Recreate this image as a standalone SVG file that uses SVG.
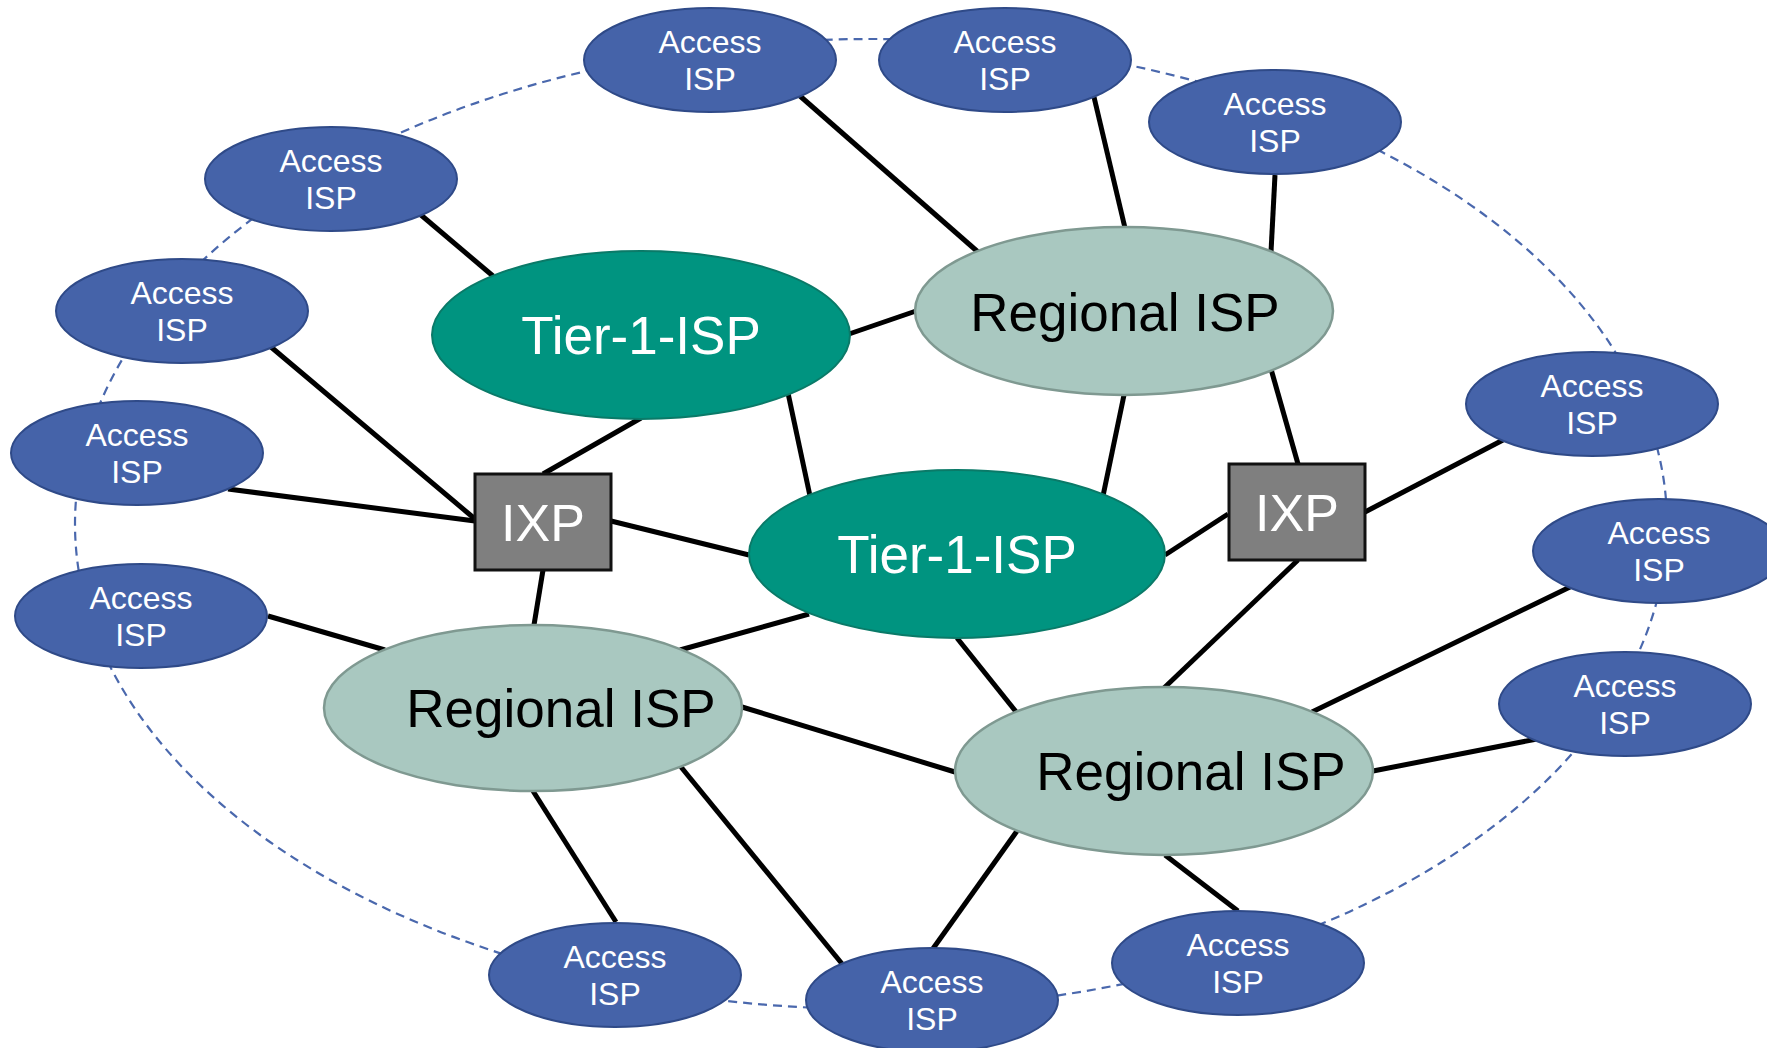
<svg xmlns="http://www.w3.org/2000/svg" width="1767" height="1048" viewBox="0 0 1767 1048">
  <style>
    .ring { fill: none; stroke: #4a68ad; stroke-width: 2.2; stroke-dasharray: 9 6; }
    .link { stroke: #000; stroke-width: 5; fill: none; }
    .access { fill: #4563a9; stroke: #2f4a88; stroke-width: 2; }
    .tier1 { fill: #009480; stroke: #0a7a68; stroke-width: 2; }
    .regional { fill: #a9c8c0; stroke: #7f9991; stroke-width: 2.5; }
    .ixp { fill: #7f7f7f; stroke: #111; stroke-width: 3; }
    .t-access { font-family: "Liberation Sans", Arial, sans-serif; font-size: 32px; fill: #fff; text-anchor: middle; }
    .t-big { font-family: "Liberation Sans", Arial, sans-serif; font-size: 53px; text-anchor: middle; }
    .t-ixp { font-family: "Liberation Sans", Arial, sans-serif; font-size: 52px; fill: #fff; text-anchor: middle; }
  </style>
  <rect width="1767" height="1048" fill="#fff"/>

  <!-- dashed ring through the access networks -->
  <ellipse class="ring" cx="871" cy="524" rx="796" ry="485"/>

  <g id="connectors">
    <line class="link" x1="800" y1="96" x2="978" y2="252"/>
    <line class="link" x1="1094" y1="97" x2="1125" y2="228"/>
    <line class="link" x1="1275" y1="175" x2="1271" y2="252"/>
    <line class="link" x1="421" y1="215" x2="493" y2="276"/>
    <line class="link" x1="271" y1="347" x2="475" y2="519"/>
    <line class="link" x1="228" y1="489" x2="475" y2="521"/>
    <line class="link" x1="641" y1="418" x2="543" y2="474"/>
    <line class="link" x1="849" y1="334" x2="916" y2="311"/>
    <line class="link" x1="788" y1="393" x2="810" y2="496"/>
    <line class="link" x1="1124" y1="395" x2="1103" y2="496"/>
    <line class="link" x1="1271" y1="369" x2="1298" y2="464"/>
    <line class="link" x1="611" y1="521" x2="749" y2="555"/>
    <line class="link" x1="1228" y1="514" x2="1165" y2="555"/>
    <line class="link" x1="1365" y1="512" x2="1503" y2="440"/>
    <line class="link" x1="543" y1="570" x2="534" y2="625"/>
    <line class="link" x1="268" y1="616" x2="385" y2="650"/>
    <line class="link" x1="809" y1="614" x2="680" y2="650"/>
    <line class="link" x1="957" y1="638" x2="1017" y2="713"/>
    <line class="link" x1="1298" y1="560" x2="1164" y2="688"/>
    <line class="link" x1="742" y1="707" x2="955" y2="772"/>
    <line class="link" x1="533" y1="791" x2="616" y2="922"/>
    <line class="link" x1="681" y1="767" x2="843" y2="965"/>
    <line class="link" x1="1017" y1="831" x2="932" y2="950"/>
    <line class="link" x1="1165" y1="855" x2="1238" y2="911"/>
    <line class="link" x1="1312" y1="712" x2="1570" y2="587"/>
    <line class="link" x1="1373" y1="771" x2="1537" y2="739"/>
  </g>

  <!-- core networks -->
  <g id="tier1-west">
    <ellipse class="tier1" cx="641" cy="335" rx="209" ry="84"/>
    <text class="t-big" x="641" y="354" fill="#fff">Tier-1-ISP</text>
  </g>
  <g id="tier1-central">
    <ellipse class="tier1" cx="957" cy="554" rx="208" ry="84"/>
    <text class="t-big" x="957" y="573" fill="#fff">Tier-1-ISP</text>
  </g>
  <g id="regional-north">
    <ellipse class="regional" cx="1124" cy="311" rx="209" ry="84"/>
    <text class="t-big" x="1125" y="331" fill="#000">Regional ISP</text>
  </g>
  <g id="regional-west">
    <ellipse class="regional" cx="533" cy="708" rx="209" ry="83"/>
    <text class="t-big" x="561" y="727" fill="#000">Regional ISP</text>
  </g>
  <g id="regional-south">
    <ellipse class="regional" cx="1164" cy="771" rx="209" ry="84"/>
    <text class="t-big" x="1191" y="790" fill="#000">Regional ISP</text>
  </g>

  <!-- exchange points -->
  <g id="ixp-west">
    <rect class="ixp" x="475" y="474" width="136" height="96"/>
    <text class="t-ixp" x="543" y="541">IXP</text>
  </g>
  <g id="ixp-east">
    <rect class="ixp" x="1229" y="464" width="136" height="96"/>
    <text class="t-ixp" x="1297" y="531">IXP</text>
  </g>

  <!-- access networks -->
  <g id="access-1">
    <ellipse class="access" cx="710" cy="60" rx="126" ry="52"/>
    <text class="t-access" x="710" y="53">Access</text>
    <text class="t-access" x="710" y="90">ISP</text>
  </g>
  <g id="access-2">
    <ellipse class="access" cx="1005" cy="60" rx="126" ry="52"/>
    <text class="t-access" x="1005" y="53">Access</text>
    <text class="t-access" x="1005" y="90">ISP</text>
  </g>
  <g id="access-3">
    <ellipse class="access" cx="1275" cy="122" rx="126" ry="52"/>
    <text class="t-access" x="1275" y="115">Access</text>
    <text class="t-access" x="1275" y="152">ISP</text>
  </g>
  <g id="access-4">
    <ellipse class="access" cx="331" cy="179" rx="126" ry="52"/>
    <text class="t-access" x="331" y="172">Access</text>
    <text class="t-access" x="331" y="209">ISP</text>
  </g>
  <g id="access-5">
    <ellipse class="access" cx="182" cy="311" rx="126" ry="52"/>
    <text class="t-access" x="182" y="304">Access</text>
    <text class="t-access" x="182" y="341">ISP</text>
  </g>
  <g id="access-6">
    <ellipse class="access" cx="137" cy="453" rx="126" ry="52"/>
    <text class="t-access" x="137" y="446">Access</text>
    <text class="t-access" x="137" y="483">ISP</text>
  </g>
  <g id="access-7">
    <ellipse class="access" cx="141" cy="616" rx="126" ry="52"/>
    <text class="t-access" x="141" y="609">Access</text>
    <text class="t-access" x="141" y="646">ISP</text>
  </g>
  <g id="access-8">
    <ellipse class="access" cx="1592" cy="404" rx="126" ry="52"/>
    <text class="t-access" x="1592" y="397">Access</text>
    <text class="t-access" x="1592" y="434">ISP</text>
  </g>
  <g id="access-9">
    <ellipse class="access" cx="1659" cy="551" rx="126" ry="52"/>
    <text class="t-access" x="1659" y="544">Access</text>
    <text class="t-access" x="1659" y="581">ISP</text>
  </g>
  <g id="access-10">
    <ellipse class="access" cx="1625" cy="704" rx="126" ry="52"/>
    <text class="t-access" x="1625" y="697">Access</text>
    <text class="t-access" x="1625" y="734">ISP</text>
  </g>
  <g id="access-11">
    <ellipse class="access" cx="1238" cy="963" rx="126" ry="52"/>
    <text class="t-access" x="1238" y="956">Access</text>
    <text class="t-access" x="1238" y="993">ISP</text>
  </g>
  <g id="access-12">
    <ellipse class="access" cx="932" cy="1000" rx="126" ry="52"/>
    <text class="t-access" x="932" y="993">Access</text>
    <text class="t-access" x="932" y="1030">ISP</text>
  </g>
  <g id="access-13">
    <ellipse class="access" cx="615" cy="975" rx="126" ry="52"/>
    <text class="t-access" x="615" y="968">Access</text>
    <text class="t-access" x="615" y="1005">ISP</text>
  </g>
</svg>
